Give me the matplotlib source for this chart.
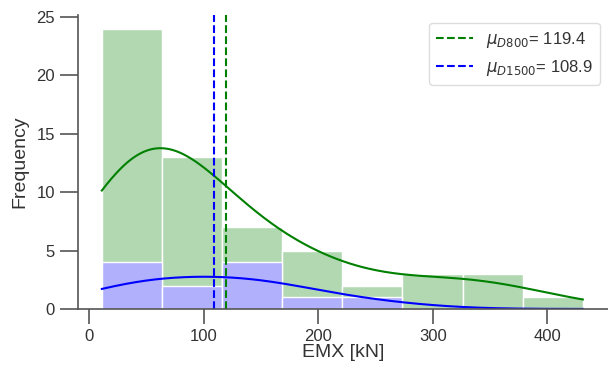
import numpy as np
import matplotlib
matplotlib.use("Agg")
import matplotlib.pyplot as plt

plt.rcParams['font.family'] = ['Liberation Sans', 'DejaVu Sans']

# histogram bins (kN) and counts per bin
bin_edges = [11.0, 63.5, 116.0, 168.5, 221.0, 273.5, 326.0, 378.5, 431.0]
counts_d800 = [24, 13, 7, 5, 2, 3, 3, 1]
counts_d1500 = [4, 2, 4, 1, 1, 0, 0, 0]
mean_d800 = 119.4
mean_d1500 = 108.9


def kde_curve(edges, counts, x, bw_adjust=1.0):
    # weighted gaussian kde on bin centres, scaled to counts
    edges = np.asarray(edges)
    c = np.asarray(counts, dtype=float)
    centres = (edges[:-1] + edges[1:]) / 2
    n = c.sum()
    mu = (c * centres).sum() / n
    sd = np.sqrt((c * (centres - mu) ** 2).sum() / n)
    h = sd * n ** (-1 / 5) * bw_adjust
    dens = (c[:, None] * np.exp(-0.5 * ((x[None, :] - centres[:, None]) / h) ** 2)).sum(0)
    dens /= n * h * np.sqrt(2 * np.pi)
    return dens * n * (edges[1] - edges[0])


fig = plt.figure(figsize=(6.08, 3.7), dpi=100)
ax = fig.add_axes([0.128, 0.165, 0.872, 0.795])

widths = np.diff(bin_edges)
ax.bar(bin_edges[:-1], counts_d800, width=widths, align='edge',
       color='#b2d8b2', edgecolor='white', lw=1)
ax.bar(bin_edges[:-1], counts_d1500, width=widths, align='edge',
       color='#b0b0fc', edgecolor='white', lw=1)

xg = np.linspace(bin_edges[0], bin_edges[-1], 300)
ax.plot(xg, kde_curve(bin_edges, counts_d800, xg, 1.22), color='green', lw=1.5)
ax.plot(xg, kde_curve(bin_edges, counts_d1500, xg, 1.4), color='blue', lw=1.5)

ax.axvline(mean_d800, color='green', ls='--', lw=1.5,
           label=r'$\mu_{D800}$= ' + f'{mean_d800}')
ax.axvline(mean_d1500, color='blue', ls='--', lw=1.5,
           label=r'$\mu_{D1500}$= ' + f'{mean_d1500}')

ax.set_xlim(-10, 453)
ax.set_ylim(0, 25.2)
ax.set_xticks([0, 100, 200, 300, 400])
ax.set_yticks([0, 5, 10, 15, 20, 25])
for s in ['top', 'right']:
    ax.spines[s].set_visible(False)
for s in ['left', 'bottom']:
    ax.spines[s].set_color('#555555')
    ax.spines[s].set_linewidth(1.2)
ax.tick_params(axis='y', length=13, width=1.2, color='#555555', labelsize=12, labelcolor='#333333')
ax.tick_params(axis='x', length=11, width=1.2, color='#555555', labelsize=12, labelcolor='#333333')
ax.set_xlabel('EMX [kN]', fontsize=14, color='#333333', labelpad=0)
ax.set_ylabel('Frequency', fontsize=14, color='#333333', labelpad=6)

ax.legend(loc='upper right', fontsize=12, handlelength=2.2, framealpha=1,
          edgecolor='#dddddd', labelcolor='#333333')

fig.savefig('out.png', dpi=100)
